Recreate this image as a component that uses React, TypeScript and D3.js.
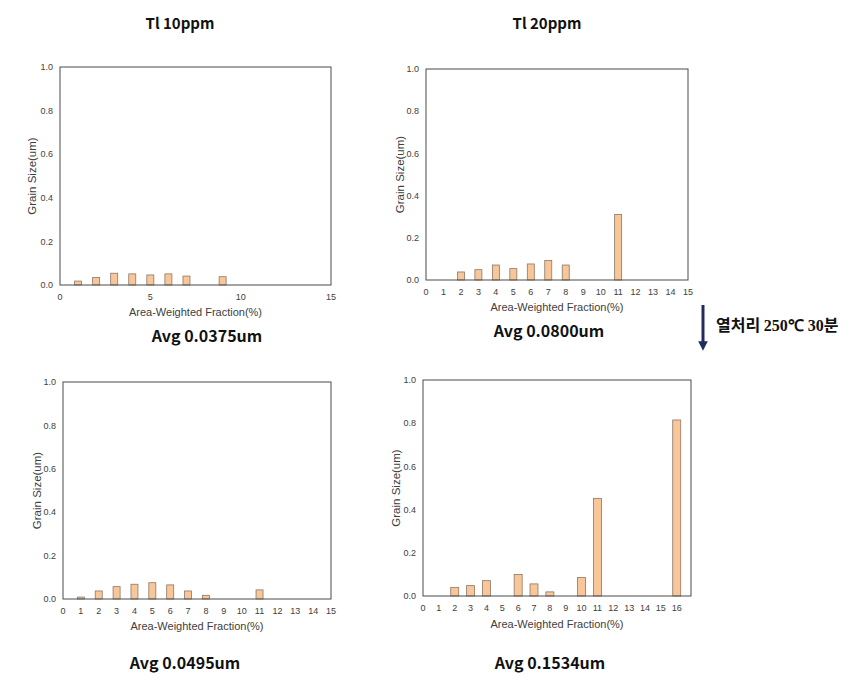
import React from "react";
import * as d3 from "d3";

// ---- Data ----
const p1X = [1, 2, 3, 4, 5, 6, 7, 9];
const p1Y = [0.018, 0.034, 0.054, 0.051, 0.046, 0.051, 0.041, 0.038];

const p2X = [2, 3, 4, 5, 6, 7, 8, 11];
const p2Y = [0.038, 0.049, 0.071, 0.054, 0.076, 0.093, 0.071, 0.31];

const p3X = [1, 2, 3, 4, 5, 6, 7, 8, 11];
const p3Y = [0.009, 0.037, 0.057, 0.068, 0.075, 0.065, 0.037, 0.017, 0.042];

const p4X = [2, 3, 4, 6, 7, 8, 10, 11, 16];
const p4Y = [0.04, 0.048, 0.071, 0.1, 0.056, 0.019, 0.086, 0.452, 0.815];

const yTicks = [0, 0.2, 0.4, 0.6, 0.8, 1.0];
const xTicksSparse = [0, 5, 10, 15];
const xTicksDense = d3.range(0, 16);
const xTicksDense16 = d3.range(0, 17);

const titles = ["Tl 10ppm", "Tl 20ppm"];
const avgLabels = ["Avg 0.0375um", "Avg 0.0800um", "Avg 0.0495um", "Avg 0.1534um"];

const xTitle = "Area-Weighted Fraction(%)";
const yTitle = "Grain Size(um)";

type PanelCfg = {
  left: number; right: number; top: number; bottom: number;
  xMax: number; xTicks: number[]; xs: number[]; ys: number[];
  barW: number; yTitleX: number; xTitleY: number;
};

const panels: PanelCfg[] = [
  { left: 60, right: 331, top: 67, bottom: 285, xMax: 15, xTicks: xTicksSparse, xs: p1X, ys: p1Y, barW: 7, yTitleX: 32, xTitleY: 316 },
  { left: 426, right: 688, top: 69, bottom: 280, xMax: 15, xTicks: xTicksDense, xs: p2X, ys: p2Y, barW: 7, yTitleX: 400, xTitleY: 311 },
  { left: 63, right: 331, top: 382, bottom: 599, xMax: 15, xTicks: xTicksDense, xs: p3X, ys: p3Y, barW: 7, yTitleX: 37, xTitleY: 630 },
  { left: 423, right: 691, top: 380, bottom: 596, xMax: 16.9, xTicks: xTicksDense16, xs: p4X, ys: p4Y, barW: 8, yTitleX: 396, xTitleY: 628 },
];

const FONT = "Liberation Sans, Arial, sans-serif";
const TXT = "#404040";

function Panel({ cfg }: { cfg: PanelCfg }) {
  const x = d3.scaleLinear().domain([0, cfg.xMax]).range([cfg.left, cfg.right]);
  const y = d3.scaleLinear().domain([0, 1]).range([cfg.bottom, cfg.top]);
  const cy = (cfg.top + cfg.bottom) / 2;
  return (
    <g>
      {cfg.xs.map((xv, i) => (
        <rect key={i} x={x(xv) - cfg.barW / 2} y={y(cfg.ys[i])} width={cfg.barW}
          height={y(0) - y(cfg.ys[i])} fill="#f9c69a" stroke="#8a7868" strokeWidth={0.8} />
      ))}
      <rect x={cfg.left} y={cfg.top} width={cfg.right - cfg.left} height={cfg.bottom - cfg.top}
        fill="none" stroke="#4a4a4a" strokeWidth={1} />
      {yTicks.map((t) => (
        <text key={t} x={cfg.left - 7} y={y(t)} dy="0.35em" textAnchor="end"
          fontSize={9} fontFamily={FONT} fill={TXT}>{d3.format(".1f")(t)}</text>
      ))}
      {cfg.xTicks.map((t) => (
        <text key={t} x={x(t)} y={cfg.bottom + 11.5} dy="0.35em" textAnchor="middle"
          fontSize={9} fontFamily={FONT} fill={TXT}>{t}</text>
      ))}
      <text x={(cfg.left + cfg.right) / 2} y={cfg.xTitleY} textAnchor="middle"
        fontSize={11} fontFamily={FONT} fill={TXT}>{xTitle}</text>
      <text transform={`translate(${cfg.yTitleX},${cy}) rotate(-90)`} dy="0.35em" textAnchor="middle"
        fontSize={11.5} fontFamily={FONT} fill={TXT}>{yTitle}</text>
    </g>
  );
}

export default function App() {
  const titlePos = [[180, 24], [547, 24]];
  const avgPos = [[207, 336], [549, 331], [185, 663], [550, 663]];
  return (
    <svg width={854} height={684} style={{ position: "absolute", left: 0, top: 0, background: "#fff" }}>
      <defs>
        <marker id="ah" viewBox="0 0 10 10" refX="5" refY="5" markerWidth="4" markerHeight="3.2"
          orient="auto" markerUnits="strokeWidth">
          <path d="M0,0 L10,5 L0,10 z" fill="#1f2d5a" />
        </marker>
      </defs>
      <rect x={0} y={0} width={854} height={684} fill="#fff" />
      {panels.map((p, i) => <Panel key={i} cfg={p} />)}
      {titles.map((t, i) => (
        <text key={t} x={titlePos[i][0]} y={titlePos[i][1]} dy="0.35em" textAnchor="middle"
          fontSize={15} fontWeight="bold" fontFamily="Noto Sans CJK KR, Noto Sans, sans-serif" fill="#111">{t}</text>
      ))}
      {avgLabels.map((t, i) => (
        <text key={t} x={avgPos[i][0]} y={avgPos[i][1]} dy="0.35em" textAnchor="middle"
          fontSize={16} fontWeight="bold" fontFamily="Noto Sans CJK KR, Noto Sans, sans-serif" fill="#111">{t}</text>
      ))}
      <line x1={703} y1={305} x2={703} y2={346} stroke="#1f2d5a" strokeWidth={3} markerEnd="url(#ah)" />
      <text x={716} y={325} dy="0.35em" fontSize={16} fontWeight="bold" fill="#111">
        <tspan fontFamily="Noto Sans CJK KR, sans-serif">열처리 </tspan>
        <tspan fontFamily="Liberation Serif, serif">250℃ 30</tspan>
        <tspan fontFamily="Noto Sans CJK KR, sans-serif">분</tspan>
      </text>
    </svg>
  );
}
